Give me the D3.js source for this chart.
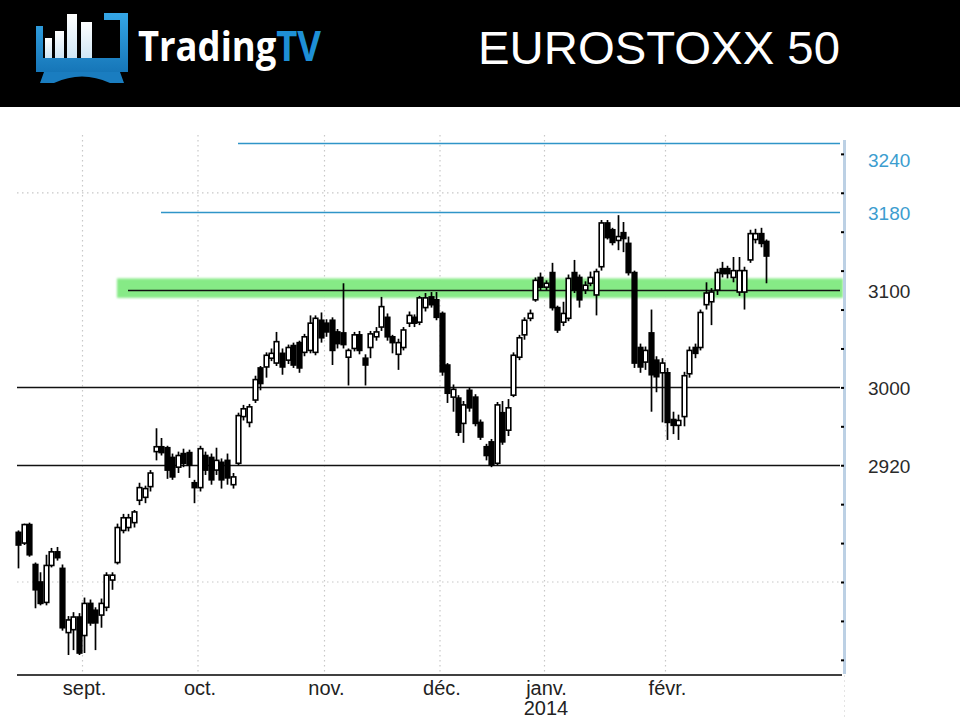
<!DOCTYPE html>
<html><head><meta charset="utf-8">
<script src="https://cdn.jsdelivr.net/npm/d3@7"></script>
<style>body{margin:0;background:#fff;}svg{display:block}</style>
</head><body>
<svg id="c" width="960" height="720"></svg>
<script>
// ---- data (EUROSTOXX 50 daily) ----
const opens  = [2851,2840,2859,2818,2800,2779,2817,2831,2814,2748,2751,2764,2745,2778,2771,2766,2774,2802,2820,2853,2856,2861,2884,2887,2898,2934,2939,2938,2928,2918,2932,2933,2902,2897,2930,2928,2915,2923,2925,2900,2922,2970,2964,2987,3020,3021,3030,3025,3035,3028,3043,3046,3036,3038,3036,3069,3066,3069,3057,3056,3031,3040,3054,3030,3041,3052,3062,3072,3052,3034,3041,3066,3072,3067,3082,3093,3090,3076,3023,2990,2989,2963,2997,2990,2964,2939,2944,2922,2974,2956,2992,3031,3054,3071,3090,3113,3103,3118,3082,3067,3071,3118,3113,3100,3107,3095,3124,3169,3162,3151,3159,3148,3118,3041,3026,3056,3028,3015,3015,2967,2961,2970,3014,3041,3041,3085,3088,3100,3122,3122,3113,3098,3098,3131,3152,3158,3150];
const highs  = [2853,2860,2861,2820,2810,2828,2835,2836,2818,2765,2769,2768,2784,2782,2774,2783,2810,2810,2860,2870,2870,2874,2902,2899,2915,2958,2948,2940,2932,2934,2937,2936,2905,2940,2934,2932,2938,2927,2932,2912,2974,2982,2983,3012,3022,3036,3040,3057,3040,3044,3046,3048,3055,3074,3074,3077,3070,3072,3060,3107,3040,3057,3058,3034,3058,3062,3093,3076,3054,3050,3062,3078,3075,3094,3097,3098,3098,3078,3025,3003,2992,2986,3000,2993,2967,2942,2947,2985,2986,2988,3036,3054,3072,3080,3113,3118,3110,3128,3084,3088,3116,3131,3116,3109,3119,3122,3172,3172,3164,3177,3170,3155,3120,3045,3042,3080,3032,3030,3020,2975,2972,3016,3042,3045,3080,3108,3102,3122,3129,3125,3134,3134,3124,3162,3163,3164,3152];
const lows   = [2814,2838,2826,2773,2776,2776,2815,2822,2750,2725,2730,2725,2727,2755,2730,2753,2770,2792,2818,2850,2852,2856,2879,2881,2893,2925,2930,2906,2905,2912,2918,2907,2881,2893,2910,2900,2910,2896,2900,2896,2920,2966,2959,2984,2997,3010,3027,3022,3013,3024,3020,3015,3032,3035,3033,3046,3052,3023,3040,3040,3002,3037,3034,3002,3030,3048,3058,3048,3035,3018,3038,3062,3062,3064,3078,3082,3069,3012,2984,2975,2950,2943,2975,2960,2946,2925,2918,2920,2941,2950,2990,3028,3049,3068,3088,3100,3100,3079,3056,3063,3068,3097,3082,3096,3104,3074,3120,3152,3146,3141,3139,3115,3020,3015,3018,2975,2995,2964,2946,2952,2946,2960,3010,3030,3038,3080,3064,3095,3113,3112,3108,3094,3080,3128,3148,3144,3107];
const closes = [2838,2859,2828,2792,2778,2817,2831,2825,2753,2761,2764,2727,2778,2758,2758,2778,2807,2807,2856,2866,2866,2872,2897,2896,2912,2939,2933,2915,2908,2930,2922,2920,2897,2937,2915,2905,2925,2905,2907,2908,2971,2978,2980,3008,3004,3033,3035,3047,3021,3041,3023,3020,3052,3066,3071,3051,3057,3038,3045,3044,3038,3054,3038,3023,3055,3057,3083,3052,3046,3046,3059,3074,3066,3092,3092,3085,3072,3016,2994,2998,2954,2982,2979,2963,2949,2930,2920,2982,2944,2979,3033,3051,3069,3076,3110,3103,3107,3082,3059,3076,3112,3100,3090,3105,3113,3119,3169,3154,3149,3155,3153,3118,3025,3021,3038,3013,3011,3025,2964,2961,2966,3012,3038,3035,3077,3097,3098,3118,3117,3117,3120,3120,3120,3158,3158,3148,3135];

const monthLabels = ["sept.","oct.","nov.","déc.","janv.","févr."];
const monthStart  = [12,33,56,77,96,118];
const yearLabel = "2014";
const yearMonth = 4;

const axisTicks = d3.range(2720, 3241, 40);
const gridValues = [3200, 2800];

const levelValues = [3251, 3180, 3100, 3000, 2920];
const levelLabels = ["3240","3180","3100","3000","2920"];
const levelStart  = [40, 26, 20, 0, 0];
const levelKind   = ["resist","resist","pivot","support","support"];
const zoneLow = 3092, zoneHigh = 3112, zoneStart = 18;

const brandWords = ["Trading", "TV"];
const title = "EUROSTOXX 50";

// ---- drawing ----
const svg = d3.select("#c");
const defs = svg.append("defs");
const n = opens.length;
const x = d3.scaleLinear().domain([0, n - 1]).range([18, 766]);
const y = d3.scaleLinear().domain([2700, 3260]).range([679.3, 134.4]);
const axisX = 843, plotLeft = 17, baseY = 675;

// header
svg.append("rect").attr("x",0).attr("y",0).attr("width",960).attr("height",107).attr("fill","#000");
const lg = defs.append("linearGradient").attr("id","barg").attr("x1",0).attr("y1",0).attr("x2",0).attr("y2",1);
lg.append("stop").attr("offset","0%").attr("stop-color","#ffffff");
lg.append("stop").attr("offset","100%").attr("stop-color","#cfe6f5");
const bg = defs.append("linearGradient").attr("id","blueg").attr("x1",0).attr("y1",0).attr("x2",0).attr("y2",1);
bg.append("stop").attr("offset","0%").attr("stop-color","#35a6e6");
bg.append("stop").attr("offset","100%").attr("stop-color","#1676b8");
const logo = svg.append("g");
logo.append("path").attr("fill","url(#blueg)")
  .attr("d","M36,26 L43,26 L43,58 L120,58 L120,20 L104,20 L104,13 L128,13 L128,72 L36,72 Z");
logo.append("path").attr("fill","#1a7dc0")
  .attr("d","M44,72 L120,72 L124,83 L110,83 Q82,70 54,83 L40,83 Z");
[[45,38,7],[55,31,9],[67,14,10],[81,22,11]].forEach(b=>{
  logo.append("rect").attr("x",b[0]).attr("y",b[1]).attr("width",b[2]).attr("height",58-b[1]).attr("fill","url(#barg)");
});
const brandFont = "'Open Sans', 'DejaVu Sans', sans-serif";
const brand = svg.append("text").attr("transform","translate(138,61) scale(1,1.15)")
  .attr("font-family",brandFont).attr("font-weight","bold").attr("font-size",35)
  .attr("textLength",183).attr("lengthAdjust","spacingAndGlyphs");
brand.append("tspan").attr("fill","#fff").text(brandWords[0]);
brand.append("tspan").attr("fill","#1e8fd6").text(brandWords[1]);
svg.append("text").attr("x",478).attr("y",64).attr("fill","#fff")
  .attr("font-family","'Liberation Sans', Arial, sans-serif").attr("font-size",46)
  .attr("textLength",362).attr("lengthAdjust","spacingAndGlyphs").text(title);

// gridlines
const grid = svg.append("g").attr("stroke","#c8c8c8").attr("stroke-width",1.2).attr("stroke-dasharray","1.5,3.5");
grid.selectAll("line.v").data(monthStart).join("line")
  .attr("x1",d=>x(d)-1.5).attr("x2",d=>x(d)-1.5).attr("y1",135).attr("y2",baseY);
grid.selectAll("line.h").data(gridValues).join("line")
  .attr("x1",plotLeft).attr("x2",axisX).attr("y1",d=>y(d)).attr("y2",d=>y(d));

// green zone
const blur = defs.append("filter").attr("id","soft").attr("x","-5%").attr("y","-50%").attr("width","110%").attr("height","200%");
blur.append("feGaussianBlur").attr("stdDeviation",1.3);
svg.append("rect").attr("x",x(zoneStart)).attr("width",axisX - x(zoneStart))
  .attr("y",y(zoneHigh)).attr("height",y(zoneLow)-y(zoneHigh))
  .attr("fill","#86ea86").attr("filter","url(#soft)");

// level lines
const levels = levelValues.map((v,i)=>({v, label:levelLabels[i], start:levelStart[i], kind:levelKind[i]}));
svg.append("g").selectAll("line").data(levels).join("line")
  .attr("x1",d=>d.start===0?plotLeft:x(d.start)).attr("x2",axisX-3)
  .attr("y1",d=>Math.round(y(d.v))+0.5).attr("y2",d=>Math.round(y(d.v))+0.5)
  .attr("stroke",d=>d.kind==="resist"?"#2f95c8":"#111")
  .attr("stroke-width",1.7);

// candles
const data = opens.map((o,i)=>({i,o,h:highs[i],l:lows[i],c:closes[i]}));
const cg = svg.append("g");
cg.selectAll("line").data(data).join("line")
  .attr("x1",d=>Math.round(x(d.i))+0.5).attr("x2",d=>Math.round(x(d.i))+0.5)
  .attr("y1",d=>y(d.h)).attr("y2",d=>y(d.l)).attr("stroke","#000").attr("stroke-width",1.7);
cg.selectAll("rect").data(data).join("rect")
  .attr("x",d=>Math.round(x(d.i))-1.8).attr("width",4.6)
  .attr("y",d=>y(Math.max(d.o,d.c)))
  .attr("height",d=>Math.max(1.8, Math.abs(y(d.o)-y(d.c))))
  .attr("fill",d=>d.c>=d.o?"#fff":"#000").attr("stroke","#000").attr("stroke-width",1.6);

// right axis
svg.append("line").attr("x1",axisX+1.5).attr("x2",axisX+1.5).attr("y1",140).attr("y2",baseY-1)
  .attr("stroke","#bcd0e4").attr("stroke-width",3);
svg.append("line").attr("x1",axisX+1.5).attr("x2",axisX+1.5).attr("y1",baseY).attr("y2",720)
  .attr("stroke","#e4e4e4").attr("stroke-width",1).attr("stroke-dasharray","2,3");
const yAxis = d3.axisLeft(y).tickValues(axisTicks).tickSize(3).tickFormat("");
const ya = svg.append("g").attr("transform",`translate(${axisX+1},0)`).call(yAxis);
ya.select(".domain").remove();
ya.selectAll(".tick line").attr("stroke","#000").attr("stroke-width",2);

// level labels
svg.append("g").selectAll("text").data(levels).join("text")
  .attr("x",868).attr("y",(d,i)=>y(d.v)+(i===0?17:1))
  .attr("dy","0.36em")
  .attr("font-family","'Liberation Sans', Arial, sans-serif").attr("font-size",19)
  .attr("fill",d=>d.kind==="resist"?"#3c9dcf":"#2a2a2a")
  .text(d=>d.label);

// bottom axis
svg.append("line").attr("x1",plotLeft).attr("x2",axisX-1).attr("y1",baseY).attr("y2",baseY)
  .attr("stroke","#000").attr("stroke-width",1.6);
const xAxis = d3.axisBottom(x).tickValues(monthStart).tickSize(0).tickPadding(0)
  .tickFormat((d,i)=>monthLabels[i]);
const xa = svg.append("g").attr("transform",`translate(0,${baseY})`).call(xAxis);
xa.select(".domain").remove();
xa.selectAll("text").attr("dy",null).attr("y",20)
  .attr("font-family","'Liberation Sans', Arial, sans-serif").attr("font-size",20).attr("fill","#222");
svg.append("text").attr("x",x(monthStart[yearMonth])).attr("y",715).attr("text-anchor","middle")
  .attr("font-family","'Liberation Sans', Arial, sans-serif").attr("font-size",20).attr("fill","#222")
  .text(yearLabel);
</script>
</body></html>
